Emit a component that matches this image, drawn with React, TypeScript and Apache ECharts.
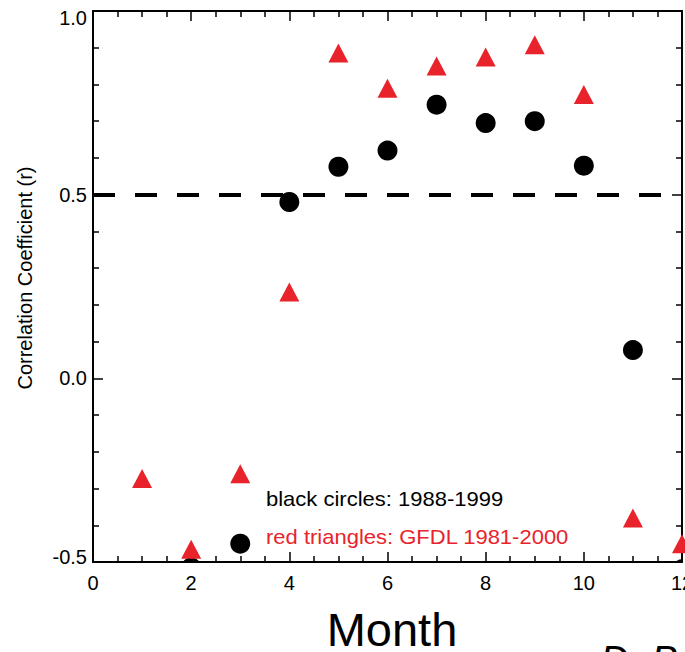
import React, { useEffect, useRef } from "react";
import * as echarts from "echarts";

const months = [1, 2, 3, 4, 5, 6, 7, 8, 9, 10, 11, 12];
const observedR: (number | null)[] = [null, -0.515, -0.45, 0.48, 0.576, 0.62, 0.745, 0.695, 0.70, 0.579, 0.077, -0.52];
const gfdlR = [-0.273, -0.465, -0.26, 0.235, 0.886, 0.79, 0.85, 0.875, 0.908, 0.773, -0.38, -0.45];
const yTicks = [-0.5, 0.0, 0.5, 1.0];
const threshold = 0.5;
const titleText = "Northeast";
const xName = "Month";
const yName = "Correlation Coefficient (r)";
const legendBlack = "black circles: 1988-1999";
const legendRed = "red triangles: GFDL 1981-2000";
const cornerText = "D. B";

const FONT = "'Liberation Sans', Arial, Helvetica, sans-serif";
const RED = "#e8232b";

export default function App() {
  const ref = useRef<HTMLDivElement>(null);
  useEffect(() => {
    if (!ref.current) return;
    document.documentElement.style.overflow = "hidden";
    document.body.style.overflow = "hidden";
    const chart = echarts.init(ref.current, null, { renderer: "svg" });
    const axisCommon = {
      type: "value" as const,
      axisLine: { show: true, onZero: false, lineStyle: { color: "#000", width: 2 } },
      splitLine: { show: false },
    };
    const tickStyle = { color: "#000", width: 1.5 };
    const obsData = months
      .map((m, i) => [m, observedR[i]])
      .filter((d) => d[1] !== null);
    const yMin = yTicks[0];
    const yMax = yTicks[yTicks.length - 1];
    chart.setOption({
      animation: false,
      backgroundColor: "#fff",
      grid: { left: 93, top: 11, right: 3, bottom: 90, containLabel: false, outerBoundsMode: "none" },
      xAxis: [
        {
          ...axisCommon,
          position: "bottom",
          min: 0,
          max: 12,
          interval: 2,
          axisTick: { show: true, inside: true, length: 10, lineStyle: tickStyle },
          minorTick: { show: true, splitNumber: 4, length: 6, lineStyle: tickStyle },
          axisLabel: { color: "#000", fontSize: 20, fontFamily: FONT, margin: 11, hideOverlap: false },
        },
        {
          ...axisCommon,
          position: "top",
          min: 0,
          max: 12,
          interval: 2,
          axisTick: { show: true, inside: true, length: 10, lineStyle: tickStyle },
          minorTick: { show: true, splitNumber: 4, length: 6, lineStyle: tickStyle },
          axisLabel: { show: false },
        },
      ],
      yAxis: [
        {
          ...axisCommon,
          position: "left",
          min: yMin,
          max: yMax,
          interval: 0.5,
          axisTick: { show: true, inside: true, length: 10, lineStyle: tickStyle },
          minorTick: { show: true, splitNumber: 5, length: 6, lineStyle: tickStyle },
          axisLabel: {
            color: "#000",
            fontSize: 20,
            fontFamily: FONT,
            margin: 6,
            formatter: (v: number) => {
              const s = v.toFixed(1);
              if (Math.abs(v - yMin) < 1e-9) return `{lo|${s}}`;
              if (Math.abs(v - yMax) < 1e-9) return `{hi|${s}}`;
              return s;
            },
            rich: {
              lo: { fontSize: 20, fontFamily: FONT, color: "#000", padding: [0, 0, 10, 0] },
              hi: { fontSize: 20, fontFamily: FONT, color: "#000", padding: [13, 0, 0, 0] },
            },
          },
        },
        {
          ...axisCommon,
          position: "right",
          min: yMin,
          max: yMax,
          interval: 0.5,
          axisTick: { show: true, inside: true, length: 10, lineStyle: tickStyle },
          minorTick: { show: true, splitNumber: 5, length: 6, lineStyle: tickStyle },
          axisLabel: { show: false },
        },
      ],
      series: [
        {
          type: "line",
          data: [],
          markLine: {
            silent: true,
            symbol: "none",
            label: { show: false },
            lineStyle: { color: "#000", width: 4, type: [22, 20] },
            data: [{ yAxis: threshold }],
          },
        },
        {
          type: "custom",
          clip: true,
          data: obsData,
          renderItem: (params: any, api: any) => {
            const p = api.coord([api.value(0), api.value(1)]);
            return {
              type: "circle",
              shape: { cx: p[0], cy: p[1], r: 10 },
              style: { fill: "#000" },
            };
          },
          z: 3,
        },
        {
          type: "scatter",
          clip: false,
          symbol: "triangle",
          symbolSize: [20, 19],
          itemStyle: { color: RED, opacity: 1 },
          data: months.map((m, i) => [m, gfdlR[i]]),
          z: 4,
        },
      ],
      graphic: [
        {
          type: "text",
          x: 330,
          y: -20.5,
          scaleX: 1.1,
          style: { text: titleText, fontSize: 24, fontFamily: FONT, fill: "#000", verticalAlign: "top" },
        },
        {
          type: "text",
          x: 25,
          y: 278,
          rotation: Math.PI / 2,
          style: {
            text: yName,
            fontSize: 20,
            fontFamily: FONT,
            fill: "#000",
            align: "center",
            verticalAlign: "middle",
          },
        },
        {
          type: "text",
          x: 266,
          y: 499,
          scaleX: 1.1,
          style: { text: legendBlack, fontSize: 20, fontFamily: FONT, fill: "#000", verticalAlign: "middle" },
        },
        {
          type: "text",
          x: 266,
          y: 537,
          scaleX: 1.1,
          style: { text: legendRed, fontSize: 20, fontFamily: FONT, fill: RED, verticalAlign: "middle" },
        },
        {
          type: "text",
          x: 392,
          y: 653,
          style: {
            text: xName,
            fontSize: 47,
            fontFamily: FONT,
            fill: "#000",
            align: "center",
            verticalAlign: "bottom",
          },
        },
        {
          type: "text",
          x: 600,
          y: 640,
          style: {
            text: cornerText,
            fontSize: 40,
            fontStyle: "italic",
            fontFamily: FONT,
            fill: "#000",
            verticalAlign: "top",
          },
        },
      ],
    });
    return () => chart.dispose();
  }, []);
  return (
    <div
      ref={ref}
      style={{ position: "fixed", left: 0, top: 0, width: 685, height: 652 }}
    />
  );
}
